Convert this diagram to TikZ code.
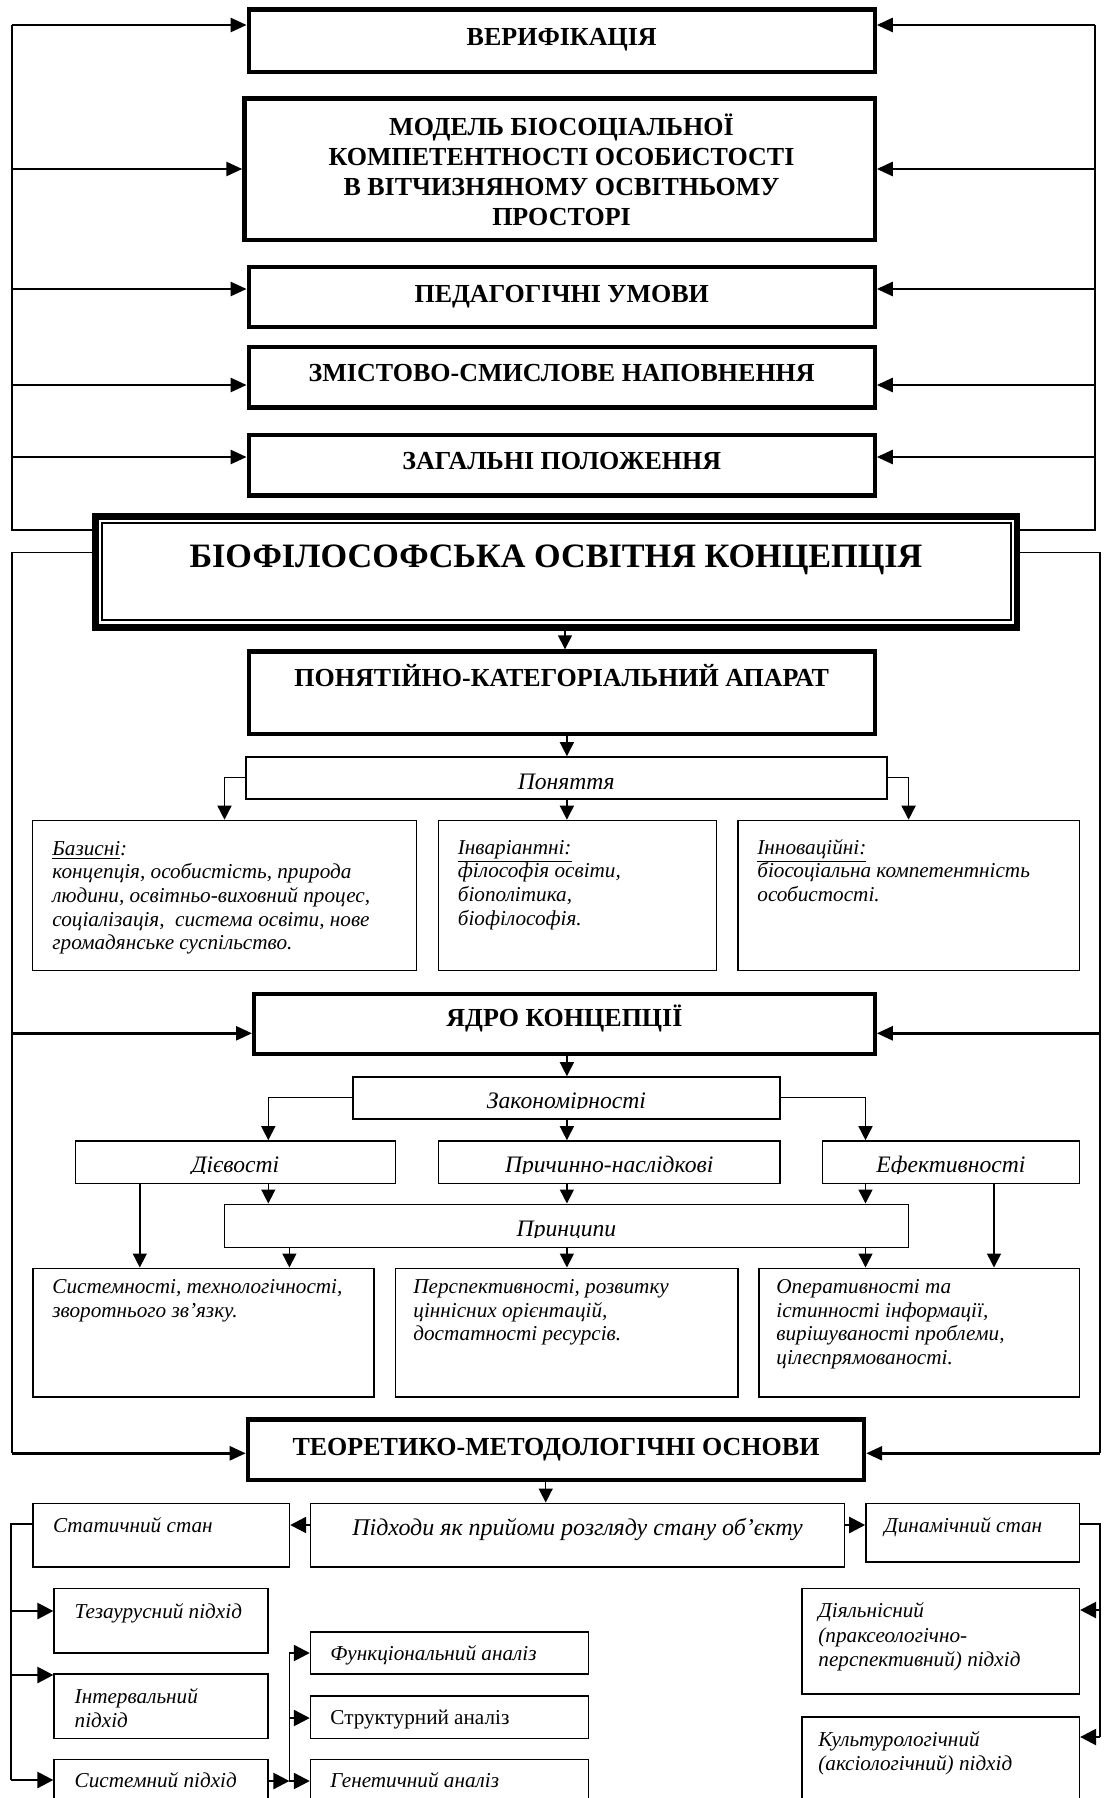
\documentclass[tikz,border=0pt]{standalone}
\usepackage{fontspec}
\setmainfont{Liberation Serif}
\usetikzlibrary{arrows.meta,fit}
\newcommand\mlL[1]{\parbox[t]{300pt}{\raggedright #1}}
\newcommand\mlC[1]{\parbox[t]{320pt}{\centering #1}}
\begin{document}
\begin{tikzpicture}[x=0.5pt,y=-0.5pt,
  thickbox/.style={draw, line width=2.1pt, inner sep=0pt},
  thinbox/.style={draw, line width=0.8pt, inner sep=0pt},
  hd/.style={font=\fontsize{13}{15.1}\selectfont\bfseries, inner sep=0pt, anchor=base},
  ttl/.style={font=\fontsize{17.1}{20}\selectfont\bfseries, inner sep=0pt, anchor=base},
  lbl/.style={font=\fontsize{11.8}{13.5}\selectfont\itshape, inner sep=0pt, anchor=base},
  txt/.style={font=\fontsize{10.6}{11.85}\selectfont\itshape, inner sep=0pt, anchor=base west},
  txtb/.style={font=\fontsize{10.6}{12.4}\selectfont\itshape, inner sep=0pt, anchor=base west},
  bigarr/.style={line width=1.3pt, -{Triangle[length=8pt,width=7pt]}},
  looplin/.style={line width=0.85pt},
  midarr/.style={line width=0.75pt, -{Triangle[length=7pt,width=7pt]}},
  lowarr/.style={line width=1.2pt, -{Triangle[length=8pt,width=8pt]}},
  lowlin/.style={line width=0.9pt},
]
\useasboundingbox (0,0) rectangle (1107,1798);
\clip (0,0) rectangle (1107,1798);

% ---------- top boxes ----------
\node[thickbox, fit={(248.7,9.6) (874.7,71.9)}] (ver) {};
\node[thickbox, fit={(244.4,98.5) (874.7,239.7)}] (mod) {};
\node[thickbox, fit={(248.7,267.1) (874.7,327.2)}] (ped) {};
\node[thickbox, fit={(248.7,346.7) (874.7,407.5)}] (zms) {};
\node[thickbox, fit={(248.7,435) (874.7,495.4)}] (zag) {};

\node[hd] (verT) at (561.7,45.5) {ВЕРИФІКАЦІЯ};
\node[hd] (modT) at (561.5,135) {\mlC{МОДЕЛЬ БІОСОЦІАЛЬНОЇ\\КОМПЕТЕНТНОСТІ ОСОБИСТОСТІ\\В ВІТЧИЗНЯНОМУ ОСВІТНЬОМУ\\ПРОСТОРІ}};
\node[hd] (pedT) at (561.7,302) {ПЕДАГОГІЧНІ УМОВИ};
\node[hd] (zmsT) at (561.7,381.5) {ЗМІСТОВО-СМИСЛОВЕ НАПОВНЕННЯ};
\node[hd] (zagT) at (561.7,469) {ЗАГАЛЬНІ ПОЛОЖЕННЯ};

% ---------- big box ----------
\node[draw, line width=3.3pt, inner sep=0pt, fit={(95.3,516.7) (1017,627.3)}] (big) {};
\node[draw, line width=0.9pt, inner sep=0pt, fit={(101.7,523.3) (1010.6,619.7)}] (bigin) {};
\node[ttl] (bigT) at (556,567.7) {БІОФІЛОСОФСЬКА ОСВІТНЯ КОНЦЕПЦІЯ};

% ---------- conceptual apparatus ----------
\node[thickbox, fit={(248.7,651.4) (874.7,733.9)}] (pon) {};
\node[hd] (ponT) at (561.7,686.7) {ПОНЯТІЙНО-КАТЕГОРІАЛЬНИЙ АПАРАТ};
\node[thinbox, fit={(245.7,757) (886.7,798.7)}] (pny) {};
\node[lbl] (pnyT) at (566.2,789) {Поняття};

\node[thinbox, fit={(32.5,820.5) (416.5,970.5)}] (baz) {};
\node[thinbox, fit={(438.4,820.5) (716.5,970.5)}] (inv) {};
\node[thinbox, fit={(737.7,820.5) (1079.5,970.5)}] (inn) {};
\node[txt] (bazT) at (52,855) {\mlL{\underline{Базисні}:\\концепція, особистість, природа\\людини, освітньо-виховний процес,\\соціалізація,\ \ система освіти, нове\\громадянське суспільство.}};
\node[txt] (invT) at (457.5,854) {\mlL{\underline{Інваріантні:}\\філософія освіти,\\біополітика,\\біофілософія.}};
\node[txt] (innT) at (757,854) {\mlL{\underline{Інноваційні:}\\біосоціальна компетентність\\особистості.}};

% ---------- core ----------
\node[thickbox, fit={(254.1,993.8) (874.7,1053.9)}] (yad) {};
\node[hd] (yadT) at (564.4,1026.7) {ЯДРО КОНЦЕПЦІЇ};

\node[thinbox, fit={(353,1077) (780,1119)}] (zak) {};
\node[thinbox, fit={(75.5,1141) (395.3,1183.3)}] (diev) {};
\node[thinbox, fit={(438.4,1141) (780,1183.3)}] (prych) {};
\node[thinbox, fit={(822.5,1141) (1079.5,1183.3)}] (efek) {};
\node[thinbox, fit={(224.5,1204.3) (908.6,1247.3)}] (pryn) {};

\begin{scope}
\clip (353,1077) rectangle (780,1108.6);
\node[lbl] (zakT) at (566.5,1108) {Закономірності};
\end{scope}
\begin{scope}
\clip (75,1141) rectangle (1080,1173.4);
\node[lbl] (dievT) at (235.4,1172.7) {Дієвості};
\node[lbl] (prychT) at (609.2,1172.7) {Причинно-наслідкові};
\node[lbl] (efekT) at (951,1172.7) {Ефективності};
\end{scope}
\begin{scope}
\clip (224.5,1204.3) rectangle (908.6,1237.4);
\node[lbl] (prynT) at (566.5,1236.7) {Принципи};
\end{scope}

\node[thinbox, fit={(33,1268.3) (374.2,1396.7)}] (sys) {};
\node[thinbox, fit={(395.3,1268.3) (737.7,1396.7)}] (persp) {};
\node[thinbox, fit={(759,1268.3) (1079.5,1396.7)}] (oper) {};
\node[txt] (sysT) at (52,1293.5) {\mlL{Системності, технологічності,\\зворотнього зв’язку.}};
\node[txt] (perspT) at (413,1293.5) {\mlL{Перспективності, розвитку\\ціннісних орієнтацій,\\достатності ресурсів.}};
\node[txt] (operT) at (776,1293.5) {\mlL{Оперативності та\\істинності інформації,\\вирішуваності проблеми,\\цілеспрямованості.}};

% ---------- theoretical foundations ----------
\node[thickbox, fit={(247.8,1419.4) (864.1,1480.2)}] (teor) {};
\node[hd] (teorT) at (556,1455) {ТЕОРЕТИКО-МЕТОДОЛОГІЧНІ ОСНОВИ};

\node[thinbox, fit={(310.6,1503.3) (844.3,1566.7)}] (pidh) {};
\node[thinbox, fit={(32.8,1503.3) (289.4,1566.7)}] (stat) {};
\node[thinbox, fit={(866,1503.3) (1079.3,1561.7)}] (dyn) {};
\node[font=\fontsize{12}{14}\selectfont\itshape, inner sep=0pt, anchor=base] (pidhT) at (577.5,1535) {Підходи як прийоми розгляду стану об’єкту};
\node[txt] (statT) at (52.6,1532.7) {Статичний стан};
\node[txt] (dynT) at (884,1532.7) {Динамічний стан};

\node[thinbox, fit={(54.2,1588.3) (267.9,1652.7)}] (tez) {};
\node[thinbox, fit={(54.2,1673.7) (267.9,1738.3)}] (int) {};
\node[thinbox, fit={(54.2,1759.3) (267.9,1830)}] (sysp) {};
\node[thinbox, fit={(310.6,1631.7) (588.5,1674)}] (fun) {};
\node[thinbox, fit={(310.6,1695.7) (588.5,1738.3)}] (str) {};
\node[thinbox, fit={(310.6,1759.3) (588.5,1830)}] (gen) {};
\node[thinbox, fit={(801.7,1588.3) (1079.3,1694)}] (dial) {};
\node[thinbox, fit={(801.7,1716.7) (1079.3,1830)}] (kult) {};

\node[txtb] (tezT) at (74.3,1618) {Тезаурусний підхід};
\node[txtb] (intT) at (74.3,1703) {\mlL{Інтервальний\\підхід}};
\node[txtb] (syspT) at (74.3,1787.7) {Системний підхід};
\node[txtb] (funT) at (330,1660.7) {Функціональний аналіз};
\node[txtb, font=\fontsize{10.6}{12.4}\selectfont\upshape] (strT) at (330,1724.3) {Структурний аналіз};
\node[txtb] (genT) at (330,1787.7) {Генетичний аналіз};
\node[txtb] (dialT) at (818,1617.3) {\mlL{Діяльнісний\\(праксеологічно-\\перспективний) підхід}};
\node[txtb] (kultT) at (818,1746) {\mlL{Культурологічний\\(аксіологічний) підхід}};

% ---------- top loop ----------
\coordinate (TL0) at (12,25);
\coordinate (TL1) at (12,169);
\coordinate (TL2) at (12,289);
\coordinate (TL3) at (12,385);
\coordinate (TL4) at (12,457);
\coordinate (TLb) at (12,530);
\coordinate (TR0) at (1095,25);
\coordinate (TR1) at (1095,169);
\coordinate (TR2) at (1095,289);
\coordinate (TR3) at (1095,385);
\coordinate (TR4) at (1095,457);
\coordinate (TRb) at (1095,530);
\draw[looplin] (TL0) -- (TLb) -- (TLb -| big.west);
\draw[looplin] (TR0) -- (TRb) -- (TRb -| big.east);
\foreach \c/\n in {0/ver,1/mod,2/ped,3/zms,4/zag}{
  \draw[bigarr] (TL\c) -- (TL\c -| \n.west);
  \draw[bigarr] (TR\c) -- (TR\c -| \n.east);
}

% ---------- bottom loop ----------
\coordinate (BL0) at (12,552.5);
\coordinate (BL1) at (12,1033.3);
\coordinate (BL2) at (12,1453.3);
\coordinate (BR0) at (1100,552.5);
\coordinate (BR1) at (1100,1033.3);
\coordinate (BR2) at (1100,1453.3);
\draw[looplin] (BL0 -| big.west) -- (BL0) -- (BL2);
\draw[looplin] (BR0 -| big.east) -- (BR0) -- (BR2);
\draw[bigarr] (BL1) -- (BL1 -| yad.west);
\draw[bigarr] (BL2) -- (BL2 -| teor.west);
\draw[bigarr] (BR1) -- (BR1 -| yad.east);
\draw[bigarr] (BR2) -- (BR2 -| teor.east);

% ---------- middle connectors ----------
\coordinate (X1) at (565,0);
\coordinate (X2) at (566.9,0);
\coordinate (X3) at (545.7,0);
\coordinate (PL) at (224.5,777.7);
\coordinate (PR) at (908.6,777.7);
\coordinate (ZL) at (268.3,1097.7);
\coordinate (ZR) at (865.5,1097.7);
\coordinate (D1) at (139.8,0);
\coordinate (P1) at (289.4,0);
\coordinate (E1) at (994,0);
\draw[midarr] (big.south -| X1) -- (pon.north -| X1);
\draw[midarr] (pon.south -| X2) -- (pny.north -| X2);
\draw[midarr] (pny.south -| X2) -- (inv.north -| X2);
\draw[midarr] (PL -| pny.west) -- (PL) -- (PL |- baz.north);
\draw[midarr] (PR -| pny.east) -- (PR) -- (PR |- inn.north);
\draw[midarr] (yad.south -| X2) -- (zak.north -| X2);
\draw[midarr] (zak.south -| X2) -- (prych.north -| X2);
\draw[midarr] (ZL -| zak.west) -- (ZL) -- (ZL |- diev.north);
\draw[midarr] (ZR -| zak.east) -- (ZR) -- (ZR |- efek.north);
\draw[midarr] (diev.south -| ZL) -- (pryn.north -| ZL);
\draw[midarr] (prych.south -| X2) -- (pryn.north -| X2);
\draw[midarr] (efek.south -| ZR) -- (pryn.north -| ZR);
\draw[midarr] (diev.south -| D1) -- (sys.north -| D1);
\draw[midarr] (pryn.south -| P1) -- (sys.north -| P1);
\draw[midarr] (pryn.south -| X2) -- (persp.north -| X2);
\draw[midarr] (pryn.south -| ZR) -- (oper.north -| ZR);
\draw[midarr] (efek.south -| E1) -- (oper.north -| E1);
\draw[midarr] (teor.south -| X3) -- (pidh.north -| X3);

% ---------- lower connectors ----------
\coordinate (Y1) at (0,1525);
\draw[lowarr] (pidh.west |- Y1) -- (stat.east |- Y1);
\draw[lowarr] (pidh.east |- Y1) -- (dyn.west |- Y1);

\coordinate (SL0) at (11,1524);
\coordinate (SL1) at (11,1611);
\coordinate (SL2) at (11,1675);
\coordinate (SL3) at (11,1780);
\draw[lowlin] (stat.west |- SL0) -- (SL0) -- (SL3);
\draw[lowarr] (SL1) -- (SL1 -| tez.west);
\draw[lowarr] (SL2) -- (SL2 -| int.west);
\draw[lowarr] (SL3) -- (SL3 -| sysp.west);

\coordinate (V0) at (289.4,1653);
\coordinate (V1) at (289.4,1718);
\coordinate (V2) at (289.4,1781);
\draw[lowarr] (sysp.east |- V2) -- (V2);
\draw[lowlin] (V0) -- (V2);
\draw[lowarr] (V0) -- (V0 -| fun.west);
\draw[lowarr] (V1) -- (V1 -| str.west);
\draw[lowarr] (V2) -- (V2 -| gen.west);

\coordinate (DR0) at (1100,1524);
\coordinate (DR1) at (1100,1610);
\coordinate (DR2) at (1100,1737);
\draw[lowlin] (dyn.east |- DR0) -- (DR0) -- (DR2);
\draw[lowarr] (DR1) -- (DR1 -| dial.east);
\draw[lowarr] (DR2) -- (DR2 -| kult.east);
\end{tikzpicture}
\end{document}
